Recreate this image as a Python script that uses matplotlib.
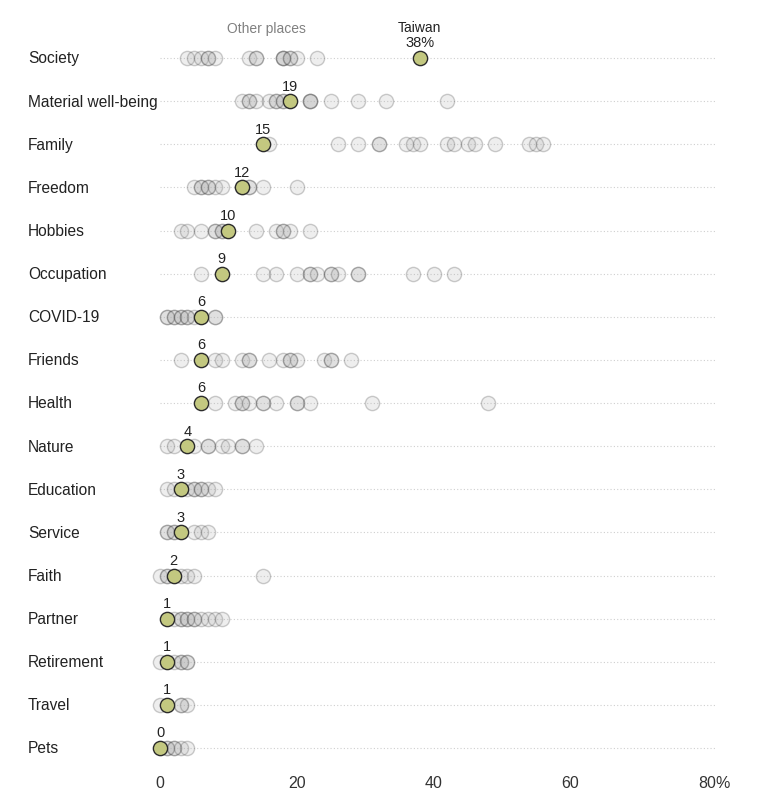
import numpy as np
import matplotlib
matplotlib.use('Agg')
import matplotlib.pyplot as plt
import matplotlib.transforms as mtransforms

plt.rcParams['font.family'] = ['Liberation Sans', 'DejaVu Sans']

categories = ['Society', 'Material well-being', 'Family', 'Freedom', 'Hobbies',
              'Occupation', 'COVID-19', 'Friends', 'Health', 'Nature', 'Education',
              'Service', 'Faith', 'Partner', 'Retirement', 'Travel', 'Pets']

taiwan = [38, 19, 15, 12, 10, 9, 6, 6, 6, 4, 3, 3, 2, 1, 1, 1, 0]

# other publics (dark dots = several at one spot)
others = [
    [4, 5, 6, 7, 7, 8, 13, 14, 14, 18, 18, 18, 19, 19, 20, 23],
    [12, 13, 13, 14, 16, 17, 17, 18, 18, 22, 22, 22, 25, 29, 33, 42],
    [16, 26, 29, 32, 32, 36, 37, 38, 42, 43, 45, 46, 49, 54, 55, 56],
    [5, 6, 6, 7, 7, 8, 9, 12, 13, 13, 15, 20],
    [3, 4, 6, 8, 8, 9, 9, 14, 17, 18, 18, 19, 22],
    [6, 15, 17, 20, 22, 22, 23, 25, 25, 26, 29, 29, 37, 40, 43],
    [1, 1, 2, 2, 3, 3, 4, 4, 5, 8, 8],
    [3, 8, 9, 12, 13, 13, 16, 18, 19, 19, 20, 24, 25, 25, 28],
    [8, 11, 12, 12, 13, 15, 15, 17, 20, 20, 22, 31, 48],
    [1, 2, 5, 7, 7, 9, 10, 12, 12, 14],
    [1, 2, 4, 5, 5, 6, 6, 7, 8],
    [1, 1, 2, 2, 5, 6, 7],
    [0, 1, 1, 3, 4, 5, 15],
    [2, 3, 3, 4, 4, 5, 5, 6, 7, 8, 9],
    [0, 2, 3, 3, 4, 4],
    [0, 3, 3, 4],
    [1, 1, 2, 2, 3, 4],
]

xticks = [0, 20, 40, 60, 80]
xticklabels = ['0', '20', '40', '60', '80']

fig = plt.figure(figsize=(7.67, 7.98), dpi=100)
ax = fig.add_axes([139.5 / 767, 32.75 / 798, 588 / 767, 737.4 / 798])
ax.set_xlim(-3, 83)
ax.set_ylim(16.4, -0.7)

n = len(categories)
for i in range(n):
    ax.plot([0, 81.3], [i, i], color='#cfcfcf', lw=0.8, ls=(0, (1, 2)), zorder=0)
    xs = others[i]
    ax.scatter(xs, [i] * len(xs), s=105, facecolor=(0.67, 0.67, 0.67, 0.2),
               edgecolor=(0.25, 0.25, 0.25, 0.26), linewidth=1.0, zorder=2)

ax.scatter(taiwan, range(n), s=105, facecolor='#c3c880', edgecolor='#2b2b2b',
           linewidth=1.0, zorder=3)

for i, v in enumerate(taiwan):
    lab = str(v) if i > 0 else '38%'
    ax.annotate(lab, (v, i), xytext=(0, 5.5), textcoords='offset points',
                ha='center', va='bottom', fontsize=10.5, color='#222222')
ax.annotate('Taiwan', (taiwan[0], 0), xytext=(0, 16.5), textcoords='offset points',
            ha='center', va='bottom', fontsize=10, color='#222222')
ax.text(15.5, -0.67, 'Other places', ha='center', va='center',
        fontsize=10, color='#808080')

trans = mtransforms.blended_transform_factory(fig.transFigure, ax.transData)
for i, c in enumerate(categories):
    ax.text(28 / 767, i + 0.02, c, transform=trans, ha='left', va='center',
            fontsize=11.2, color='#222222')

ax.set_xticks(xticks)
ax.set_xticklabels(xticklabels, fontsize=11.5, color='#333333')
ax.tick_params(axis='x', length=0, pad=8)
# percent sign hangs to the right of the last tick label
ax.annotate('%', (80, 0), xycoords=('data', 'axes fraction'), xytext=(6.3, -8),
            textcoords='offset points', ha='left', va='top', fontsize=11.5,
            color='#333333')
ax.set_yticks([])
for sp in ax.spines.values():
    sp.set_visible(False)

fig.savefig('out.png', dpi=100)
